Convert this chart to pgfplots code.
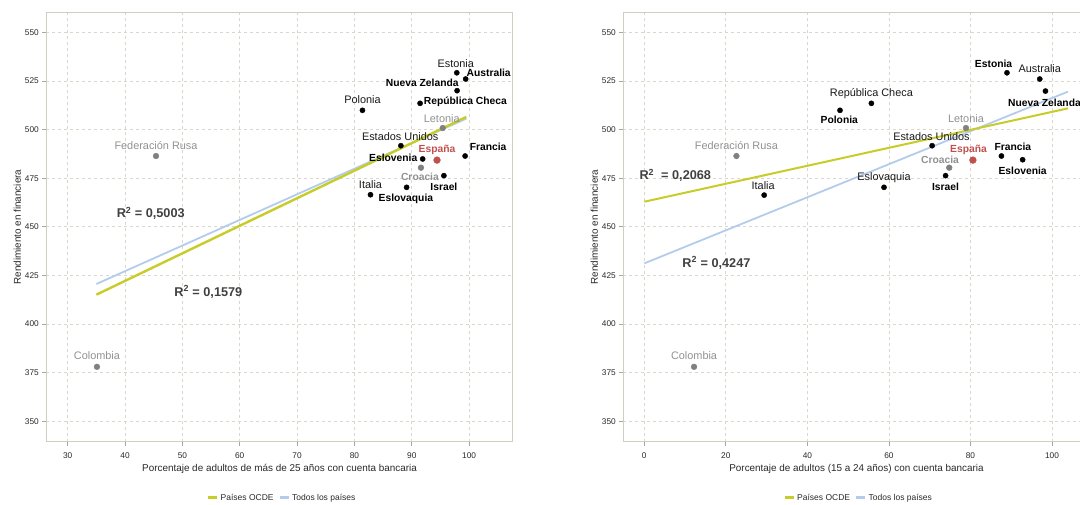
\documentclass[border=0pt]{standalone}
\usepackage{fontspec}
\setmainfont{Liberation Sans}
\usepackage{pgfplots}
\pgfplotsset{compat=1.18}
\definecolor{ocde}{RGB}{200,204,40}
\definecolor{todos}{RGB}{180,204,236}
\definecolor{gridc}{RGB}{218,214,204}
\definecolor{framec}{RGB}{208,205,194}
\definecolor{tickc}{RGB}{170,168,160}
\definecolor{grayp}{RGB}{128,128,128}
\definecolor{grayt}{RGB}{145,145,145}
\definecolor{esp}{RGB}{192,80,77}
\definecolor{rtxt}{RGB}{64,64,64}
\definecolor{txt}{RGB}{40,40,40}

\pgfplotsset{
 panel/.style={
  scale only axis, width=466.4pt, height=428.8pt,
  ymin=339.6, ymax=560.1, ytick={350,375,...,550},
  axis line style={framec, line width=0.8pt},
  grid=major, grid style={gridc, dash pattern=on 3pt off 3pt, line width=0.7pt},
  tick align=outside, tick pos=left, major tick length=4pt,
  tick style={tickc, line width=0.7pt},
  ticklabel style={font=\fontsize{8.3}{9}\selectfont, text=txt},
  xticklabel style={yshift=-3.5pt},
  /pgf/number format/assume math mode=true,
  every axis x label/.style={at={(axis description cs:0.5,0)}, yshift=-27pt, anchor=center, font=\fontsize{9.9}{11}\selectfont, text=txt},
  every axis y label/.style={at={(axis description cs:0,0.5)}, xshift=-29pt, rotate=90, anchor=center, font=\fontsize{9.9}{11}\selectfont, text=txt},
  ylabel={Rendimiento en financiera},
  clip=false,
  legend style={draw=none, fill=none, legend columns=2, font=\fontsize{8.5}{9}\selectfont, text=txt,
    /tikz/every even column/.append style={column sep=3pt}},
  legend image code/.code={\draw[#1] (0pt,0pt) -- (9pt,0pt);},
 },
}
\tikzset{
 lab/.style={font=\fontsize{10.9}{12}\selectfont, text=black!90, inner sep=0pt},
 labb/.style={font=\bfseries\fontsize{10.3}{12}\selectfont, text=black, inner sep=0pt},
 labg/.style={font=\fontsize{10.9}{12}\selectfont, text=grayt, inner sep=0pt},
 labgb/.style={font=\bfseries\fontsize{10.3}{12}\selectfont, text=grayt, inner sep=0pt},
 labr/.style={font=\bfseries\fontsize{10.3}{12}\selectfont, text=esp, inner sep=0pt},
 rsq/.style={font=\bfseries\fontsize{12.7}{14}\selectfont, text=rtxt, inner sep=0pt},
}

\begin{document}
\begin{tikzpicture}
\useasboundingbox (0,0) rectangle (1080pt,504pt);

% ---------------- Left panel ----------------
\begin{axis}[panel, at={(46.3pt,62.5pt)}, anchor=south west,
  xmin=26.27, xmax=107.6, xtick={30,40,...,100},
  xlabel={Porcentaje de adultos de más de 25 años con cuenta bancaria},
  legend style={at={(axis description cs:0.506,-0.131)}, anchor=center}]
\addlegendimage{ocde, line width=2.5pt}\addlegendentry{Países OCDE}
\addlegendimage{todos, line width=2.5pt}\addlegendentry{Todos los países}
\addplot[todos, line width=1.8pt, forget plot] coordinates {(35.0,420.6) (99.5,505.6)};
\addplot[ocde, line width=2.4pt, forget plot] coordinates {(35.0,415.1) (99.5,506.5)};
% OECD (black)
\addplot[only marks, mark=*, mark size=2.6pt, black, forget plot] coordinates {
 (97.85,529.2) (99.4,526.0) (97.9,520.0) (91.45,513.5) (81.4,509.9)
 (88.1,491.7) (99.3,486.4) (91.9,484.9) (95.6,476.3) (89.1,470.3) (82.8,466.5)};
% non OECD (gray)
\addplot[only marks, mark=*, mark size=2.9pt, grayp, forget plot] coordinates {
 (95.4,500.8) (91.6,480.4) (45.4,486.4) (35.1,378.0)};
% Spain
\addplot[only marks, mark=*, mark size=3.4pt, esp, forget plot] coordinates {(94.4,484.3)};

\node[lab]   at (axis cs:97.85,529.2) [xshift=-1pt, yshift=9.4pt] {Estonia};
\node[labb]  at (axis cs:99.4,526.0) [xshift=23pt, yshift=6.3pt] {Australia};
\node[labb]  at (axis cs:97.9,520.0) [xshift=-34.8pt, yshift=8pt] {Nueva Zelanda};
\node[labb]  at (axis cs:91.45,513.5) [xshift=45.3pt, yshift=1.6pt] {República Checa};
\node[lab]   at (axis cs:81.4,509.9) [yshift=11pt] {Polonia};
\node[labg]  at (axis cs:95.4,500.8) [xshift=-1pt, yshift=9.7pt] {Letonia};
\node[lab]   at (axis cs:88.1,491.7) [xshift=-0.7pt, yshift=9pt] {Estados Unidos};
\node[labr]  at (axis cs:94.4,484.3) [yshift=10pt] {España};
\node[labb]  at (axis cs:99.3,486.4) [xshift=23pt, yshift=9.3pt] {Francia};
\node[labb]  at (axis cs:91.9,484.9) [xshift=-29.4pt, yshift=1.3pt] {Eslovenia};
\node[labgb] at (axis cs:91.6,480.4) [xshift=-1pt, yshift=-9pt] {Croacia};
\node[labb]  at (axis cs:95.6,476.3) [yshift=-11pt] {Israel};
\node[labb]  at (axis cs:89.1,470.3) [xshift=-0.7pt, yshift=-11.7pt] {Eslovaquia};
\node[lab]   at (axis cs:82.8,466.5) [yshift=9.7pt] {Italia};
\node[labg]  at (axis cs:45.4,486.4) [yshift=10pt] {Federación Rusa};
\node[labg]  at (axis cs:35.1,378.0) [yshift=11.5pt] {Colombia};

\node[rsq] at (axis cs:44.48,456.9) {R\textsuperscript{2} = 0,5003};
\node[rsq] at (axis cs:54.52,416.6) {R\textsuperscript{2} = 0,1579};
\end{axis}

% ---------------- Right panel ----------------
\begin{axis}[panel, at={(623.3pt,62.5pt)}, anchor=south west,
  xmin=-5.15, xmax=109.25, xtick={0,20,...,100},
  xlabel={Porcentaje de adultos (15 a 24 años) con cuenta bancaria},
  legend style={at={(axis description cs:0.505,-0.131)}, anchor=center}]
\addlegendimage{ocde, line width=2.5pt}\addlegendentry{Países OCDE}
\addlegendimage{todos, line width=2.5pt}\addlegendentry{Todos los países}
\addplot[todos, line width=1.8pt, forget plot] coordinates {(0,431.2) (103.9,519.5)};
\addplot[ocde, line width=2.0pt, forget plot] coordinates {(0,462.9) (103.9,510.9)};
\addplot[only marks, mark=*, mark size=2.6pt, black, forget plot] coordinates {
 (88.96,529.2) (97.0,526.0) (98.4,519.8) (55.7,513.5) (48.0,509.9)
 (70.6,491.7) (87.6,486.4) (92.8,484.5) (73.9,476.3) (58.8,470.3) (29.4,466.3)};
\addplot[only marks, mark=*, mark size=2.9pt, grayp, forget plot] coordinates {
 (78.9,500.8) (74.8,480.4) (22.6,486.4) (12.2,378.0)};
\addplot[only marks, mark=*, mark size=3.4pt, esp, forget plot] coordinates {(80.6,484.3)};

\node[labb]  at (axis cs:88.96,529.2) [xshift=-13.4pt, yshift=9.4pt] {Estonia};
\node[lab]   at (axis cs:97.0,526.0) [yshift=10pt] {Australia};
\node[labb]  at (axis cs:98.4,519.8) [xshift=-1pt, yshift=-11.3pt] {Nueva Zelanda};
\node[lab]   at (axis cs:55.7,513.5) [yshift=10pt] {República Checa};
\node[labb]  at (axis cs:48.0,509.9) [xshift=-0.7pt, yshift=-9.7pt] {Polonia};
\node[labg]  at (axis cs:78.9,500.8) [yshift=9.7pt] {Letonia};
\node[lab]   at (axis cs:70.6,491.7) [xshift=-0.7pt, yshift=9pt] {Estados Unidos};
\node[labr]  at (axis cs:80.6,484.3) [xshift=-4.4pt, yshift=10pt] {España};
\node[labb]  at (axis cs:87.6,486.4) [xshift=11.4pt, yshift=9.3pt] {Francia};
\node[labb]  at (axis cs:92.8,484.5) [yshift=-11pt] {Eslovenia};
\node[labgb] at (axis cs:74.8,480.4) [xshift=-9.3pt, yshift=7.7pt] {Croacia};
\node[labb]  at (axis cs:73.9,476.3) [yshift=-11pt] {Israel};
\node[lab]   at (axis cs:58.8,470.3) [yshift=10pt] {Eslovaquia};
\node[lab]   at (axis cs:29.4,466.3) [xshift=-1pt, yshift=10pt] {Italia};
\node[labg]  at (axis cs:22.6,486.4) [yshift=10pt] {Federación Rusa};
\node[labg]  at (axis cs:12.2,378.0) [yshift=11.3pt] {Colombia};

\node[rsq] at (axis cs:7.6,476.6) {R\textsuperscript{2}\ \ = 0,2068};
\node[rsq] at (axis cs:17.7,431.5) {R\textsuperscript{2} = 0,4247};
\end{axis}
\end{tikzpicture}
\end{document}
